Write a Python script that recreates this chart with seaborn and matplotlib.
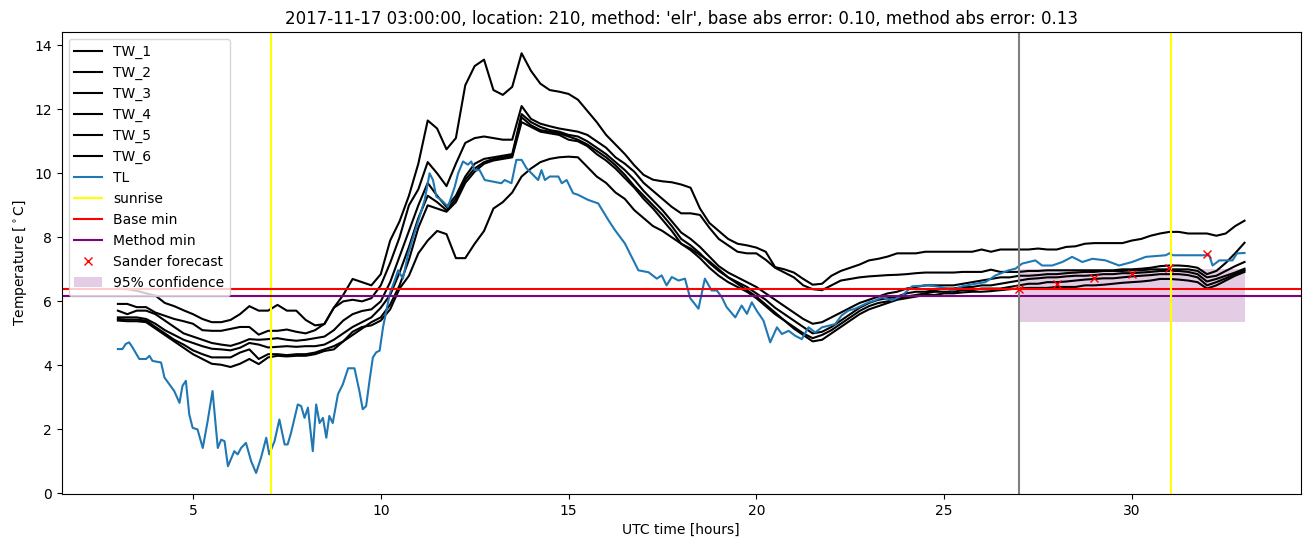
import numpy as np
import pandas as pd
import matplotlib
matplotlib.use("Agg")
import matplotlib.pyplot as plt
import seaborn as sns

# ---------------- data ----------------
tw_hours = np.arange(3.0, 33.01, 0.25)

tw_1 = [6.40, 6.38, 6.33, 6.25, 6.18, 5.95, 5.85, 5.72, 5.60, 5.45, 5.35, 5.35,
        5.42, 5.60, 5.85, 5.71, 5.71, 5.89, 5.71, 5.71, 5.42, 5.25, 5.29, 5.80,
        6.20, 6.70, 6.60, 6.50, 6.85, 7.90, 8.50, 9.30, 10.30, 11.65, 11.40, 10.75,
        11.10, 12.75, 13.35, 13.55, 12.60, 12.45, 12.70, 13.75, 13.20, 12.80, 12.60, 12.55,
        12.48, 12.30, 11.95, 11.60, 11.20, 10.90, 10.60, 10.25, 9.95, 9.80, 9.75, 9.72,
        9.65, 9.55, 8.90, 8.45, 8.20, 7.95, 7.80, 7.75, 7.68, 7.55, 7.07, 7.00,
        6.90, 6.70, 6.52, 6.55, 6.80, 6.95, 7.05, 7.15, 7.28, 7.33, 7.40, 7.50,
        7.50, 7.50, 7.55, 7.55, 7.55, 7.55, 7.55, 7.55, 7.62, 7.55, 7.62, 7.62,
        7.62, 7.62, 7.65, 7.62, 7.62, 7.70, 7.72, 7.80, 7.82, 7.82, 7.82, 7.82,
        7.90, 7.95, 8.05, 8.12, 8.17, 8.17, 8.12, 8.12, 8.12, 8.05, 8.12, 8.35,
        8.52]

tw_2 = [5.92, 5.92, 5.82, 5.82, 5.65, 5.55, 5.45, 5.38, 5.30, 5.10, 5.08, 5.08,
        5.14, 5.20, 5.20, 4.96, 5.08, 5.08, 5.12, 5.05, 5.00, 5.10, 5.30, 5.80,
        6.00, 6.05, 6.00, 6.10, 6.50, 7.20, 8.00, 9.00, 9.50, 10.35, 10.00, 9.60,
        10.30, 10.95, 11.10, 11.15, 11.10, 11.05, 11.05, 12.10, 11.70, 11.55, 11.47, 11.40,
        11.35, 11.30, 11.20, 11.00, 10.80, 10.50, 10.30, 10.05, 9.70, 9.45, 9.20, 8.95,
        8.75, 8.75, 8.70, 8.30, 7.95, 7.75, 7.55, 7.50, 7.50, 7.30, 7.05, 6.90,
        6.75, 6.50, 6.38, 6.35, 6.50, 6.65, 6.70, 6.75, 6.78, 6.80, 6.82, 6.83,
        6.85, 6.88, 6.90, 6.90, 6.90, 6.90, 6.92, 6.92, 6.92, 6.99, 6.92, 6.92,
        6.92, 6.95, 6.95, 6.97, 6.97, 6.97, 6.97, 6.97, 6.97, 6.97, 6.97, 7.00,
        7.00, 7.02, 7.05, 7.10, 7.12, 7.12, 7.10, 7.05, 6.85, 6.95, 7.20, 7.50,
        7.83]

tw_3 = [5.71, 5.60, 5.71, 5.71, 5.60, 5.40, 5.20, 5.00, 4.90, 4.80, 4.70, 4.65,
        4.61, 4.70, 4.82, 4.80, 4.82, 4.85, 4.80, 4.77, 4.80, 4.85, 4.90, 5.10,
        5.40, 5.60, 5.70, 5.75, 6.00, 6.60, 7.40, 8.20, 9.00, 9.70, 9.30, 8.95,
        9.30, 9.90, 10.30, 10.45, 10.50, 10.55, 10.60, 11.85, 11.60, 11.45, 11.35, 11.30,
        11.20, 11.15, 11.00, 10.80, 10.60, 10.35, 10.10, 9.80, 9.45, 9.15, 8.85, 8.50,
        8.15, 7.95, 7.70, 7.40, 7.10, 6.90, 6.75, 6.60, 6.45, 6.25, 6.05, 5.85,
        5.65, 5.45, 5.30, 5.35, 5.50, 5.65, 5.80, 5.95, 6.05, 6.15, 6.25, 6.30,
        6.40, 6.45, 6.50, 6.50, 6.50, 6.50, 6.55, 6.60, 6.65, 6.70, 6.75, 6.75,
        6.80, 6.80, 6.82, 6.85, 6.85, 6.88, 6.90, 6.92, 6.92, 6.95, 6.95, 6.95,
        6.97, 6.97, 7.00, 7.00, 7.00, 7.00, 7.00, 6.95, 6.75, 6.80, 6.95, 7.10,
        7.23]

tw_4 = [5.50, 5.50, 5.50, 5.45, 5.30, 5.10, 4.95, 4.80, 4.70, 4.60, 4.52, 4.50,
        4.47, 4.55, 4.70, 4.65, 4.56, 4.58, 4.60, 4.58, 4.60, 4.60, 4.65, 4.80,
        5.00, 5.20, 5.35, 5.50, 5.80, 6.20, 6.90, 7.70, 8.60, 9.30, 9.10, 8.85,
        9.20, 9.80, 10.15, 10.35, 10.45, 10.50, 10.55, 11.75, 11.50, 11.35, 11.30, 11.25,
        11.15, 11.05, 10.90, 10.70, 10.50, 10.25, 9.95, 9.60, 9.30, 9.00, 8.70, 8.35,
        7.95, 7.75, 7.50, 7.20, 6.95, 6.75, 6.60, 6.45, 6.25, 6.05, 5.80, 5.60,
        5.40, 5.20, 5.00, 5.05, 5.20, 5.40, 5.60, 5.80, 5.95, 6.05, 6.10, 6.15,
        6.25, 6.30, 6.30, 6.35, 6.40, 6.40, 6.45, 6.45, 6.50, 6.50, 6.55, 6.60,
        6.65, 6.70, 6.72, 6.75, 6.75, 6.78, 6.80, 6.80, 6.82, 6.85, 6.85, 6.88,
        6.88, 6.90, 6.92, 6.95, 6.95, 6.95, 6.92, 6.85, 6.62, 6.70, 6.80, 6.90,
        7.02]

tw_5 = [5.45, 5.43, 5.43, 5.40, 5.20, 5.00, 4.80, 4.65, 4.47, 4.35, 4.25, 4.25,
        4.25, 4.40, 4.50, 4.20, 4.35, 4.35, 4.32, 4.35, 4.35, 4.40, 4.50, 4.60,
        4.75, 4.95, 5.15, 5.35, 5.50, 5.90, 6.50, 7.30, 8.30, 9.00, 8.90, 8.80,
        9.10, 9.70, 10.05, 10.30, 10.40, 10.45, 10.50, 11.60, 11.45, 11.30, 11.25, 11.20,
        11.05, 11.00, 10.85, 10.60, 10.40, 10.15, 9.85, 9.55, 9.20, 8.90, 8.55, 8.20,
        7.80, 7.60, 7.35, 7.05, 6.80, 6.60, 6.45, 6.30, 6.10, 5.85, 5.60, 5.40,
        5.20, 5.00, 4.85, 4.95, 5.10, 5.30, 5.50, 5.70, 5.85, 5.95, 6.00, 6.10,
        6.15, 6.20, 6.25, 6.30, 6.30, 6.30, 6.35, 6.35, 6.40, 6.40, 6.40, 6.45,
        6.50, 6.55, 6.55, 6.60, 6.60, 6.62, 6.65, 6.68, 6.70, 6.72, 6.72, 6.75,
        6.78, 6.80, 6.82, 6.85, 6.85, 6.85, 6.82, 6.75, 6.50, 6.60, 6.72, 6.85,
        6.97]

tw_6 = [5.40, 5.38, 5.38, 5.35, 5.15, 4.95, 4.75, 4.55, 4.35, 4.20, 4.05, 4.02,
        3.95, 4.05, 4.20, 4.04, 4.25, 4.30, 4.28, 4.30, 4.30, 4.35, 4.45, 4.50,
        4.75, 5.05, 5.20, 5.25, 5.40, 5.75, 6.40, 6.80, 7.50, 7.90, 8.20, 8.10,
        7.35, 7.35, 7.80, 8.20, 8.90, 9.10, 9.40, 9.90, 10.15, 10.35, 10.45, 10.50,
        10.52, 10.50, 10.20, 9.90, 9.70, 9.40, 9.20, 8.85, 8.60, 8.35, 8.20, 8.00,
        7.80, 7.65, 7.45, 7.25, 7.00, 6.75, 6.55, 6.35, 6.15, 5.90, 5.65, 5.40,
        5.15, 4.95, 4.75, 4.80, 5.00, 5.20, 5.40, 5.60, 5.75, 5.85, 5.95, 6.05,
        6.10, 6.15, 6.20, 6.20, 6.25, 6.25, 6.28, 6.30, 6.30, 6.32, 6.35, 6.38,
        6.40, 6.42, 6.42, 6.42, 6.45, 6.45, 6.45, 6.50, 6.50, 6.52, 6.55, 6.58,
        6.60, 6.62, 6.65, 6.70, 6.70, 6.68, 6.65, 6.60, 6.40, 6.50, 6.65, 6.80,
        6.92]

tw_names = ["TW_1", "TW_2", "TW_3", "TW_4", "TW_5", "TW_6"]

tl_hours = [3.0, 3.12, 3.21, 3.30, 3.39, 3.57, 3.75, 3.84, 3.92, 4.15, 4.24, 4.37,
            4.5, 4.64, 4.72, 4.81, 4.9, 4.99, 5.12, 5.26, 5.39, 5.52, 5.66, 5.75,
            5.84, 5.93, 6.1, 6.19, 6.28, 6.41, 6.55, 6.68, 6.81, 6.95, 7.03, 7.17,
            7.3, 7.44, 7.52, 7.61, 7.79, 7.88, 7.97, 8.06, 8.19, 8.28, 8.37, 8.46,
            8.55, 8.63, 8.72, 8.86, 8.99, 9.13, 9.3, 9.43, 9.52, 9.61, 9.7, 9.79,
            9.88, 9.97, 10.06, 10.24, 10.37, 10.46, 10.59, 10.73, 10.95, 11.17, 11.3, 11.39,
            11.48, 11.61, 11.79, 11.97, 12.06, 12.19, 12.32, 12.41, 12.5, 12.63, 12.77, 12.99,
            13.21, 13.3, 13.48, 13.61, 13.75, 13.88, 14.19, 14.28, 14.37, 14.5, 14.73, 14.82,
            14.95, 15.12, 15.25, 15.52, 15.79, 16.06, 16.24, 16.5, 16.68, 16.86, 17.13, 17.35,
            17.48, 17.61, 17.75, 17.93, 18.1, 18.24, 18.46, 18.63, 18.81, 18.95, 19.08, 19.21,
            19.44, 19.61, 19.75, 19.88, 20.01, 20.19, 20.37, 20.55, 20.68, 20.86, 21.03, 21.21,
            21.39, 21.57, 21.75, 21.93, 22.1, 22.27, 22.45, 22.63, 22.81, 22.99, 23.17, 23.34,
            23.61, 23.88, 24.15, 24.59, 24.95, 25.21, 25.48, 25.83, 26.1, 26.37, 26.72, 26.9,
            27.08, 27.26, 27.43, 27.61, 27.88, 28.15, 28.41, 28.68, 28.95, 29.3, 29.66, 30.01,
            30.37, 30.9, 31.0, 31.1, 31.79, 32.06, 32.15, 32.33, 32.68, 32.8, 33.0]
tl_values = [4.51, 4.51, 4.67, 4.72, 4.56, 4.2, 4.2, 4.3, 4.14, 4.09, 3.62, 3.41,
             3.2, 2.83, 3.36, 3.52, 2.47, 2.05, 2.0, 1.42, 2.26, 3.2, 1.42, 1.68,
             1.63, 0.85, 1.32, 1.22, 1.42, 1.58, 1.0, 0.64, 1.11, 1.74, 1.22, 1.63,
             2.31, 1.53, 1.53, 1.89, 2.78, 2.73, 2.36, 2.68, 1.32, 2.78, 2.2, 2.36,
             1.74, 2.42, 2.2, 3.1, 3.41, 3.91, 3.91, 3.2, 2.63, 2.73, 3.52, 4.25,
             4.41, 4.46, 5.19, 6.24, 6.65, 6.97, 6.71, 7.49, 8.33, 9.17, 10.0, 9.79,
             9.27, 9.17, 8.96, 9.58, 10.0, 10.37, 10.27, 10.37, 10.1, 10.1, 9.79, 9.74,
             9.69, 9.79, 9.69, 10.42, 10.42, 10.16, 9.79, 10.1, 9.79, 9.9, 9.9, 9.69,
             9.79, 9.38, 9.33, 9.17, 9.06, 8.54, 8.22, 7.81, 7.39, 6.97, 6.91, 6.71,
             6.81, 6.5, 6.76, 6.65, 6.71, 6.1, 5.77, 6.71, 6.34, 6.34, 6.13, 5.82,
             5.5, 5.87, 5.61, 5.97, 5.71, 5.4, 4.72, 5.19, 4.98, 5.08, 4.93, 4.82,
             5.19, 5.03, 5.19, 5.24, 5.29, 5.56, 5.71, 5.77, 5.87, 5.97, 6.03, 6.13,
             6.03, 6.18, 6.47, 6.5, 6.44, 6.34, 6.47, 6.55, 6.6, 6.81, 6.97, 7.02,
             7.18, 7.23, 7.28, 7.12, 7.12, 7.23, 7.39, 7.23, 7.33, 7.28, 7.12, 7.23,
             7.39, 7.44, 7.5, 7.44, 7.44, 7.44, 7.12, 7.28, 7.28, 7.5, 7.51]

sunrise_hours = [7.07, 31.05]
forecast_start = 27.0
base_min = 6.40
method_min = 6.17

forecast_hours = [27, 28, 29, 30, 31, 32]
forecast_values = [6.40, 6.53, 6.74, 6.84, 7.05, 7.47]

conf_hours = [27.0, 33.0]
conf_low = [5.35, 5.35]
conf_high = [7.00, 7.00]

title = ("2017-11-17 03:00:00, location: 210, method: 'elr', "
         "base abs error: 0.10, method abs error: 0.13")

# ---------------- plot ----------------
fig, ax = plt.subplots(figsize=(13.1, 5.47), dpi=100)
fig.subplots_adjust(left=0.047, right=0.993, bottom=0.097, top=0.941)

for name, vals in zip(tw_names, [tw_1, tw_2, tw_3, tw_4, tw_5, tw_6]):
    sns.lineplot(x=tw_hours, y=vals, color="black", label=name, ax=ax)

sns.lineplot(x=tl_hours, y=tl_values, color="#1f77b4", label="TL", ax=ax)

ax.axvline(sunrise_hours[0], color="yellow", label="sunrise")
ax.axhline(base_min, color="red", label="Base min")
ax.axhline(method_min, color="purple", label="Method min")
ax.axvline(sunrise_hours[1], color="yellow")
ax.axvline(forecast_start, color="gray")

sns.lineplot(x=forecast_hours, y=forecast_values, color="red", marker="x",
             linestyle="", markeredgecolor="red", markeredgewidth=1.0,
             markersize=6, label="Sander forecast", ax=ax)

ax.fill_between(conf_hours, conf_low, conf_high, color="purple", alpha=0.2,
                linewidth=0, label="95% confidence")

ax.set_title(title)
ax.set_xlabel("UTC time [hours]")
ax.set_ylabel("Temperature [$^\\circ$C]")
ax.legend(loc="upper left")

fig.savefig("out.png", dpi=100)
